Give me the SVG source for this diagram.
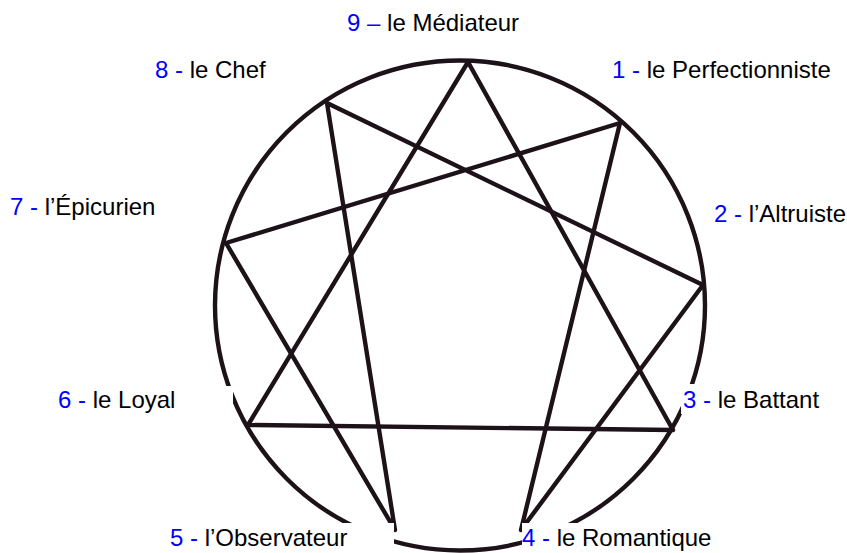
<svg xmlns="http://www.w3.org/2000/svg" width="847" height="553" viewBox="0 0 847 553">
<style>
.ln{fill:none;stroke:#1c1218;stroke-width:4.4;stroke-linecap:round;stroke-linejoin:round}
.lbl{font-family:"Liberation Sans",Arial,sans-serif;font-size:24px;fill:#000}
.num{fill:#0000ff}
.bg{fill:#ffffff}
</style>
<rect width="847" height="553" fill="#ffffff"/>
<g id="connectors">
<circle class="ln" cx="460" cy="305.5" r="245"/>
<polyline class="ln" points="468,62 673,430 248,425 468,62"/>
<polyline class="ln" points="620,123 521,530 703,285 327,103 395,530 226,243 620,123"/>
</g>
<g id="n9"><text class="lbl" x="347" y="31"><tspan class="num">9 –</tspan> le Médiateur</text></g>
<g id="n8"><text class="lbl" x="155" y="78"><tspan class="num">8 -</tspan> le Chef</text></g>
<g id="n1"><text class="lbl" x="612" y="78"><tspan class="num">1 -</tspan> le Perfectionniste</text></g>
<g id="n7"><text class="lbl" x="10" y="215"><tspan class="num">7 -</tspan> l’Épicurien</text></g>
<g id="n2"><text class="lbl" x="714" y="222"><tspan class="num">2 -</tspan> l’Altruiste</text></g>
<g id="n6"><rect class="bg" x="55" y="386" width="178" height="28"/><text class="lbl" x="58" y="408"><tspan class="num">6 -</tspan> le Loyal</text></g>
<g id="n3"><rect class="bg" x="681" y="384" width="140" height="30"/><text class="lbl" x="683" y="408"><tspan class="num">3 -</tspan> le Battant</text></g>
<g id="n5"><rect class="bg" x="168" y="523" width="226" height="30"/><text class="lbl" x="170" y="546"><tspan class="num">5 -</tspan> l’Observateur</text></g>
<g id="n4"><rect class="bg" x="522" y="523" width="192" height="30"/><text class="lbl" x="522" y="546"><tspan class="num">4 -</tspan> le Romantique</text></g>
</svg>
